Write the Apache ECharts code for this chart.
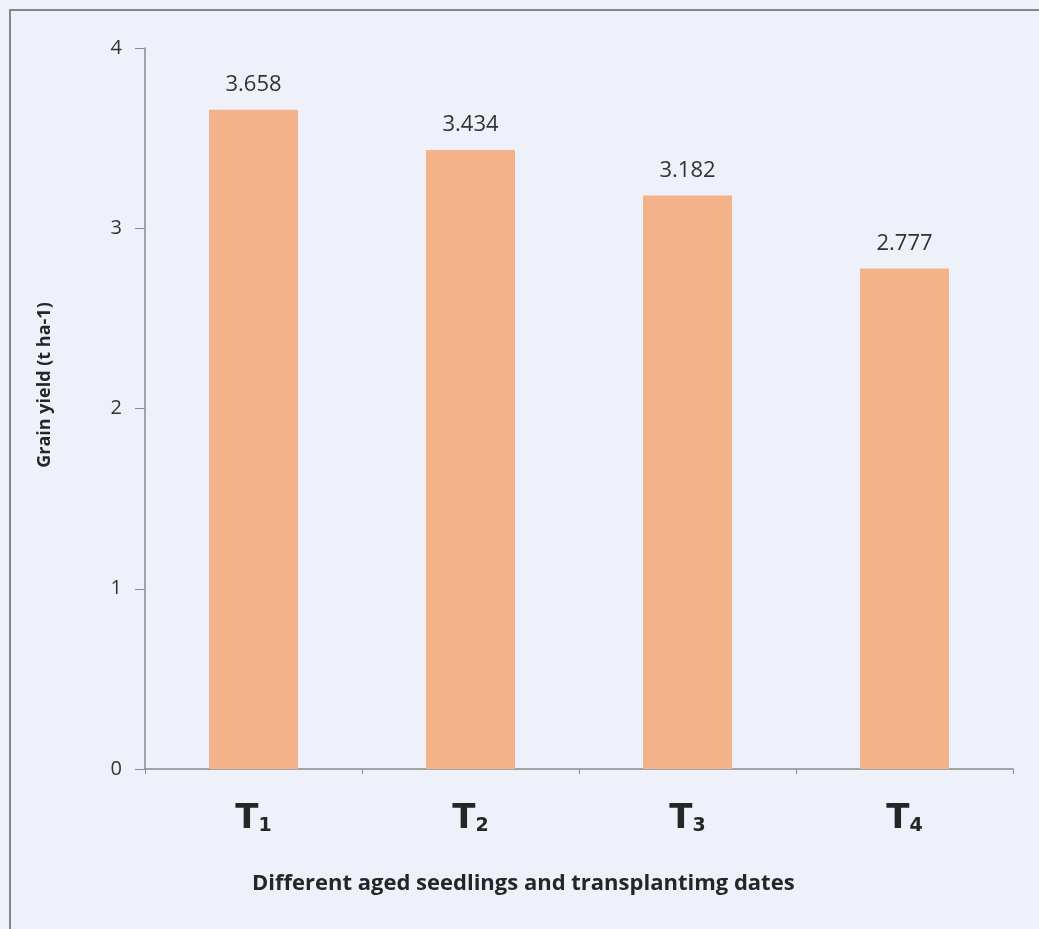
<!DOCTYPE html>
<html>
<head>
<meta charset="utf-8">
<script src="https://cdn.jsdelivr.net/npm/echarts@6/dist/echarts.min.js"></script>
<style>
  html, body { margin: 0; padding: 0; background: #eff1fa; }
  #chart { width: 1039px; height: 929px; }
</style>
</head>
<body>
<div id="chart"></div>
<script>
// Treatments (transplanting dates) and mean grain yield, t/ha
const categories = ['1', '2', '3', '4'];
const grainYield = [3.658, 3.434, 3.182, 2.777];
const yTicks = [0, 1, 2, 3, 4];

const chart = echarts.init(document.getElementById('chart'));

chart.setOption({
  backgroundColor: '#eff1fa',
  animation: false,
  grid: { left: 145, right: 26, top: 48, bottom: 160 },
  graphic: [
    {
      type: 'rect',
      shape: { x: 10, y: 10, width: 1100, height: 1000 },
      style: { fill: 'none', stroke: '#868689', lineWidth: 2 },
      silent: true
    },
    {
      type: 'text',
      left: 252,
      top: 873,
      style: {
        text: 'Different aged seedlings and transplantimg dates',
        font: 'bold 22px "Open Sans", sans-serif',
        fill: '#262626'
      }
    },
    {
      type: 'text',
      x: 45,
      y: 385,
      rotation: Math.PI / 2,
      style: {
        text: 'Grain yield (t ha-1)',
        font: 'bold 18px "Open Sans", sans-serif',
        fill: '#262626',
        align: 'center',
        verticalAlign: 'middle'
      }
    }
  ],
  xAxis: {
    type: 'category',
    data: categories,
    axisLine: { lineStyle: { color: '#8a8a8a', width: 1.5 } },
    axisTick: { show: true, length: 5, inside: false, lineStyle: { color: '#8a8a8a' } },
    axisLabel: {
      margin: 33,
      formatter: function (v) { return '{t|T}{s|' + v + '}'; },
      rich: {
        t: { fontFamily: 'DejaVu Sans', fontWeight: 'bold', fontSize: 34, color: '#262626', verticalAlign: 'bottom', lineHeight: 34 },
        s: { fontFamily: 'DejaVu Sans', fontWeight: 'bold', fontSize: 19, color: '#262626', verticalAlign: 'bottom', lineHeight: 16 }
      }
    },
    splitLine: { show: false }
  },
  yAxis: {
    type: 'value',
    min: yTicks[0],
    max: yTicks[yTicks.length - 1],
    interval: 1,
    axisLine: { show: true, lineStyle: { color: '#8a8a8a', width: 1.5 } },
    axisTick: { show: true, length: 10, lineStyle: { color: '#8a8a8a' } },
    axisLabel: { margin: 23, fontFamily: '"Open Sans", sans-serif', fontSize: 20, color: '#333333' },
    splitLine: { show: false }
  },
  series: [{
    type: 'bar',
    data: grainYield,
    barWidth: '41%',
    itemStyle: { color: '#f4b28a' },
    label: {
      show: true,
      position: 'top',
      distance: 14,
      formatter: function (p) { return p.value.toFixed(3); },
      fontFamily: '"Open Sans", sans-serif',
      fontSize: 22,
      color: '#333333'
    }
  }]
});
</script>
</body>
</html>
